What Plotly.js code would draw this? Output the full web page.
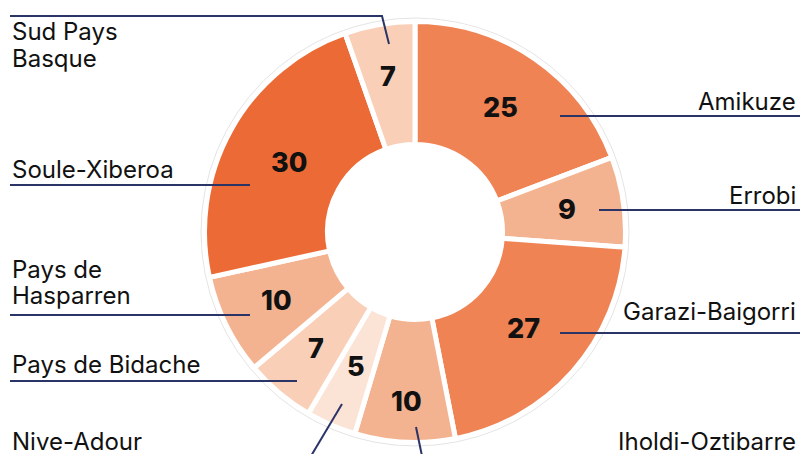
<!DOCTYPE html>
<html>
<head>
<meta charset="utf-8">
<script src="https://cdn.plot.ly/plotly-3.0.1.min.js"></script>
<style>html,body{margin:0;padding:0;background:#fff;}#chart{width:800px;height:454px;}</style>
</head>
<body>
<div id="chart"></div>
<script>
// Data
const regions = ["Amikuze", "Errobi", "Garazi-Baigorri", "Iholdi-Oztibarre", "Nive-Adour", "Pays de Bidache", "Pays de Hasparren", "Soule-Xiberoa", "Sud Pays Basque"];
const counts = [25, 9, 27, 10, 5, 7, 10, 30, 7];
const sliceColors = ["#EF8354", "#F4B390", "#EF8354", "#F4B390", "#FBE4D6", "#F9CFB8", "#F4B390", "#EC6A35", "#F9CFB8"];

// Layout (pixels)
const W = 800, H = 454;
const cx = 415, cy = 232, R = 210.5;
const valueLabelRadius = [151, 154, 145, 170, 147, 153, 154, 144, 158];
const px = x => x / W;
const py = y => 1 - y / H;

// Region name text lines
const labelLines = [
  {t: "Amikuze", x: 798, y: 101, a: "right"},
  {t: "Errobi", x: 798, y: 195, a: "right"},
  {t: "Garazi-Baigorri", x: 798, y: 311, a: "right"},
  {t: "Iholdi-Oztibarre", x: 798, y: 441, a: "right"},
  {t: "Nive-Adour", x: 10, y: 441, a: "left"},
  {t: "Pays de Bidache", x: 10, y: 364, a: "left"},
  {t: "Pays de", x: 10, y: 269, a: "left"},
  {t: "Hasparren", x: 10, y: 295, a: "left"},
  {t: "Soule-Xiberoa", x: 10, y: 169, a: "left"},
  {t: "Sud Pays", x: 10, y: 32, a: "left"},
  {t: "Basque", x: 10, y: 58, a: "left"}
];

const leaders = [
  [[560,116],[800,116]],
  [[599,210],[800,210]],
  [[560,333],[800,333]],
  [[416,427],[422,456]],
  [[342,404],[311,456]],
  [[297,381],[10,381]],
  [[250,315],[10,315]],
  [[250,185],[10,185]],
  [[389,44],[382,16],[10,16]]
];

const shapes = [];
shapes.push({type: "circle", xref: "paper", yref: "paper",
  x0: px(cx - 214), x1: px(cx + 214), y0: py(cy + 214), y1: py(cy - 214),
  line: {color: "#e4e4e4", width: 1}, layer: "below"});
leaders.forEach(pts => {
  const path = pts.map((p, i) => (i ? "L" : "M") + px(p[0]) + "," + py(p[1])).join(" ");
  shapes.push({type: "path", xref: "paper", yref: "paper", path: path,
    line: {color: "#2B3467", width: 2}, layer: "above"});
});

const annotations = labelLines.map(l => ({
  text: l.t, xref: "paper", yref: "paper", x: px(l.x), y: py(l.y),
  xanchor: l.a, yanchor: "middle", showarrow: false,
  font: {family: "Inter, 'Open Sans', sans-serif", size: 24, color: "#111111"}
}));

// Value labels at slice mid-angles (clockwise from 12 o'clock)
const total = counts.reduce((a, b) => a + b, 0);
let cum = 0;
counts.forEach((v, i) => {
  const mid = (cum + v / 2) / total * 2 * Math.PI;
  cum += v;
  const r = valueLabelRadius[i];
  const x = cx + r * Math.sin(mid);
  const y = cy - r * Math.cos(mid);
  annotations.push({
    text: String(v), xref: "paper", yref: "paper", x: px(x), y: py(y),
    xanchor: "center", yanchor: "middle", showarrow: false,
    font: {family: "Inter, 'DejaVu Sans', sans-serif", size: 27, color: "#111111", weight: 800}
  });
});

const trace = {
  type: "pie",
  labels: regions,
  values: counts,
  sort: false,
  direction: "clockwise",
  rotation: 0,
  hole: 87.5 / 210.5,
  marker: {colors: sliceColors, line: {color: "#ffffff", width: 5}},
  textinfo: "none",
  domain: {x: [px(cx - R), px(cx + R)], y: [py(cy + R), py(cy - R)]},
  showlegend: false,
  hoverinfo: "label+value"
};

const layout = {
  width: W, height: H,
  margin: {l: 0, r: 0, t: 0, b: 0},
  paper_bgcolor: "#ffffff",
  showlegend: false,
  shapes: shapes,
  annotations: annotations
};

Plotly.newPlot("chart", [trace], layout, {displayModeBar: false, staticPlot: true});
</script>
</body>
</html>
